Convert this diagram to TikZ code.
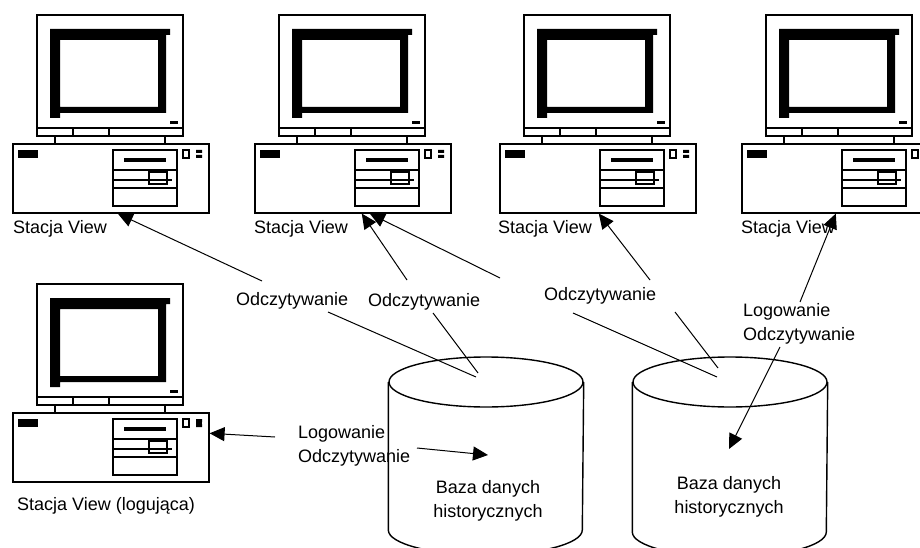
\documentclass[tikz,border=0pt]{standalone}
\usepackage{fontspec}
\setmainfont{Liberation Sans}
\usetikzlibrary{arrows.meta,shapes.geometric}

\tikzstyle{ramka}=[draw=black,line width=1.6pt]
\tikzstyle{obudowa}=[draw=black,line width=1.6pt,rectangle,inner sep=0pt,
  minimum width=196pt,minimum height=69pt,anchor=north west]
\tikzstyle{baza}=[draw=black,line width=1.4pt]
\tikzstyle{wieko}=[ellipse,draw=black,line width=1.4pt,inner sep=0pt,
  minimum width=194pt,minimum height=50pt]
\tikzstyle{opis}=[inner sep=0pt,anchor=north west,align=left,
  font=\fontsize{18}{24}\selectfont]
\tikzstyle{napis}=[opis,anchor=north,align=center]
\tikzstyle{strzalka}=[line width=1pt,-{Triangle[length=15pt,width=14pt]}]
\tikzstyle{linia}=[line width=1pt]

% stacja: monitor nad obudowa; #1,#2 = lewy gorny rog monitora, #3 = nazwa obudowy
\newcommand{\stacja}[3]{%
  \begin{scope}[shift={(#1,#2)}]
    \draw[ramka] (0,0) rectangle (146,121);
    \draw[ramka] (0,113) -- (146,113) (36,113) -- (36,121) (72,113) -- (72,121);
    \fill[even odd rule] (13,14) -- (133,14) -- (133,20) -- (129,20) -- (129,98)
      -- (23,98) -- (23,103) -- (13,103) -- cycle (23,25) rectangle (121,92);
    \fill (133,106) rectangle (141,109);
    \draw[ramka] (18,121) -- (18,128) (128,121) -- (128,128);
    \node[obudowa] (#3) at (-25,128) {};
    \fill (-19,135) rectangle (1,143);
    \draw[ramka] (76,135) rectangle (140,191);
    \fill (87,143) rectangle (129,147);
    \draw[ramka] (76,155) -- (140,155) (76,165) -- (135,165) (76,173) -- (140,173);
    \draw[ramka] (112,157) rectangle (130,169);
    \draw[line width=1.2pt] (146,135) rectangle (152,143);
    \fill (159,135) rectangle (165,138) (159,140) rectangle (165,143);
  \end{scope}}

\begin{document}
\begin{tikzpicture}[x=1pt,y=-1pt]
  \useasboundingbox (0,0) rectangle (920,548);
  \clip (0,0) rectangle (920,548);

  % stacje
  \stacja{37}{15}{k1}
  \stacja{279}{15}{k2}
  \stacja{524}{15}{k3}
  \stacja{766}{15}{k4}
  \stacja{37}{284}{k5}
  \fill (196,419) rectangle (202,427); % pelna dioda w stacji logujacej
  \node[opis] (s1) at (13,220) {Stacja View};
  \node[opis] (s2) at (254,220) {Stacja View};
  \node[opis] (s3) at (498,220) {Stacja View};
  \node[opis] (s4) at (741,220) {Stacja View};
  \node[opis] (s5) at (17,497) {Stacja View (logująca)};

  % bazy danych
  \node[wieko] (b1) at (486,382) {};
  \node[wieko] (b2) at (730,382) {};
  \draw[baza] (b1.west) -- ++(0,148) arc[start angle=180,end angle=0,x radius=97,y radius=25] -- (b1.east);
  \draw[baza] (b2.west) -- ++(0,150) arc[start angle=180,end angle=0,x radius=97,y radius=25] -- (b2.east);
  \node[napis] (t1) at (488,480) {Baza danych\\historycznych};
  \node[napis] (t2) at (729,476) {Baza danych\\historycznych};

  % opisy polaczen
  \node[opis] (l1) at (236,292) {Odczytywanie};
  \node[opis] (l2) at (368,293) {Odczytywanie};
  \node[opis] (l3) at (544,287) {Odczytywanie};
  \node[opis] (l4) at (743,303) {Logowanie\\Odczytywanie};
  \node[opis] (l5) at (298,425) {Logowanie\\Odczytywanie};

  \coordinate (p1) at (262,281);
  \coordinate (p2) at (407,280);
  \coordinate (p3) at (500,278);
  \coordinate (p4) at (650,280);
  \coordinate (p5) at (800,302);
  \coordinate (p6) at (780,347);
  \coordinate (p7) at (275,437);
  \coordinate (p8) at (417,448);
  \coordinate (q1) at (328,312);
  \coordinate (q2) at (433,313);
  \coordinate (q3) at (573,313);
  \coordinate (q4) at (675,312);

  \draw[strzalka] (p1) -- ([xshift=7pt]k1.south);
  \draw[strzalka] (p2) -- ([xshift=9pt]k2.south);
  \draw[strzalka] (p3) -- ([xshift=17pt]k2.south);
  \draw[strzalka] (p4) -- ([xshift=1pt]k3.south);
  \draw[strzalka] (p5) -- ([xshift=-4pt]k4.south);
  \draw[strzalka] (p6) -- ([yshift=27pt]t2.north);
  \draw[strzalka] (p7) -- ([yshift=14pt]k5.east);
  \draw[strzalka] (p8) -- ([yshift=25pt]t1.north);

  \draw[linia] (q1) -- ([xshift=-10pt,yshift=5pt]b1.center);
  \draw[linia] (q2) -- ([xshift=-8pt,yshift=9pt]b1.center);
  \draw[linia] (q3) -- ([xshift=-13pt,yshift=5pt]b2.center);
  \draw[linia] (q4) -- ([xshift=-12pt,yshift=14pt]b2.center);
\end{tikzpicture}
\end{document}
